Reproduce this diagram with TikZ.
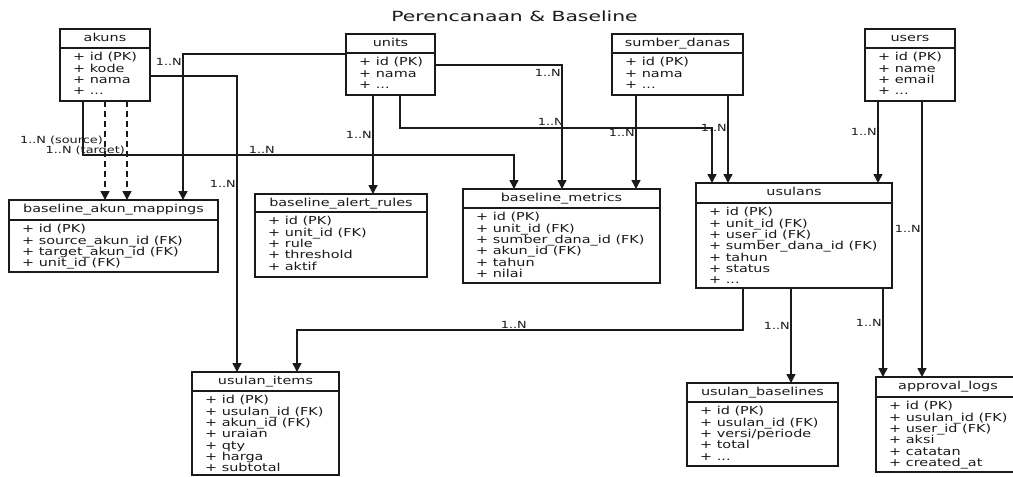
\documentclass[tikz,border=0pt]{standalone}
\usepackage{fontspec}
\setmainfont{DejaVu Sans}
\newfontfamily\erfont{DejaVu Sans}[FakeStretch=1.31]
\newfontfamily\ertitlefont{DejaVu Sans}[FakeStretch=1.45]
\usetikzlibrary{arrows.meta}
\definecolor{ink}{HTML}{1A1A1A}

\tikzset{
  tbl/.style={draw=ink, line width=1.5pt, inner sep=0pt, outer sep=0pt},
  sepline/.style={draw=ink, line width=1.2pt},
  hdr/.style={text=ink, font=\erfont\fontsize{11}{11.3}\selectfont, inner sep=0pt, anchor=base},
  fld/.style={text=ink, font=\erfont\fontsize{11}{11.3}\selectfont, inner sep=0pt, anchor=base west},
  rel/.style={draw=ink, line width=1.5pt, -{Triangle[length=9pt,width=9pt]}},
  opt/.style={rel, dash pattern=on 6pt off 4pt},
  card/.style={text=ink, font=\erfont\fontsize{9.8}{10}\selectfont, inner sep=0pt, anchor=east},
}

% trailing "more columns" row
\newcommand\etcrow{+ ...}

% entity box: name, left, top, right, header rule, bottom, title, fields
\newcommand\erentity[8]{%
  \node[tbl, anchor=north west, minimum width={(#4-#2)*1pt}, minimum height={(#6-#3)*1pt}] (#1) at (#2,#3) {};
  \draw[sepline] (#2,#5) -- (#4,#5);
  \node[hdr] (#1-h) at ({(#2+#4)/2},{#3+12.8}) {#7};
  \foreach \f [count=\i from 0] in {#8}
    \node[fld] (#1-f\i) at ({#2+13},{#5+12.8+11.3*\i}) {\f};
}

\begin{document}
\begin{tikzpicture}[x=1pt, y=-1pt]
\useasboundingbox (0,0) rectangle (1013,477);
\fill[white] (0,0) rectangle (1013,477);

\node[text=ink, font=\ertitlefont\fontsize{14}{15}\selectfont, inner sep=0pt] (title) at (514.5,16) {Perencanaan \& Baseline};

% entities
\erentity{akuns}{60}{29}{150}{48}{101}{akuns}{+ id (PK), + kode, + nama, \etcrow}
\erentity{units}{346}{34}{435}{53}{95}{units}{+ id (PK), + nama, \etcrow}
\erentity{sumber}{612}{34}{743}{53}{95}{sumber\_danas}{+ id (PK), + nama, \etcrow}
\erentity{users}{865}{29}{955}{48}{101}{users}{+ id (PK), + name, + email, \etcrow}
\erentity{bam}{9}{200}{218}{220}{272}{baseline\_akun\_mappings}{+ id (PK), + source\_akun\_id (FK), + target\_akun\_id (FK), + unit\_id (FK)}
\erentity{alert}{255}{194}{427}{212}{277}{baseline\_alert\_rules}{+ id (PK), + unit\_id (FK), + rule, + threshold, + aktif}
\erentity{bmetrics}{463}{189}{660}{208}{283}{baseline\_metrics}{+ id (PK), + unit\_id (FK), + sumber\_dana\_id (FK), + akun\_id (FK), + tahun, + nilai}
\erentity{usulans}{696}{183}{892}{203}{288}{usulans}{+ id (PK), + unit\_id (FK), + user\_id (FK), + sumber\_dana\_id (FK), + tahun, + status, \etcrow}
\erentity{uitems}{192}{372}{339}{391}{475}{usulan\_items}{+ id (PK), + usulan\_id (FK), + akun\_id (FK), + uraian, + qty, + harga, + subtotal}
\erentity{ubase}{687}{383}{838}{402}{466}{usulan\_baselines}{+ id (PK), + usulan\_id (FK), + versi/periode, + total, \etcrow}
\erentity{alogs}{876}{377}{1020}{397}{472}{approval\_logs}{+ id (PK), + usulan\_id (FK), + user\_id (FK), + aksi, + catatan, + created\_at}

% relations from akuns
\draw[opt] ([xshift=45pt]akuns.south west) -- ([xshift=96pt]bam.north west);
\draw[opt] ([xshift=67pt]akuns.south west) -- ([xshift=118pt]bam.north west);
\draw[rel] ([xshift=23pt]akuns.south west) -- ++(0,54) -| ([xshift=51pt]bmetrics.north west);
\draw[rel] ([yshift=-11pt]akuns.east) -| ([xshift=45pt]uitems.north west);

% relations from units
\draw[rel] ([yshift=10.5pt]units.west) -| ([xshift=174pt]bam.north west);
\draw[rel] ([xshift=27pt]units.south west) -- ([xshift=118pt]alert.north west);
\draw[rel] ([yshift=-0.5pt]units.east) -| ([xshift=99pt]bmetrics.north west);
\draw[rel] ([xshift=54pt]units.south west) -- ++(0,33) -| ([xshift=16pt]usulans.north west);

% relations from sumber_danas
\draw[rel] ([xshift=24pt]sumber.south west) -- ([xshift=173pt]bmetrics.north west);
\draw[rel] ([xshift=116pt]sumber.south west) -- ([xshift=32pt]usulans.north west);

% relations from users
\draw[rel] ([xshift=13pt]users.south west) -- ([xshift=182pt]usulans.north west);
\draw[rel] ([xshift=57pt]users.south west) -- ([xshift=46pt]alogs.north west);

% relations from usulans
\draw[rel] ([xshift=47pt]usulans.south west) -- ++(0,42) -| ([xshift=105pt]uitems.north west);
\draw[rel] ([xshift=95pt]usulans.south west) -- ([xshift=104pt]ubase.north west);
\draw[rel] ([xshift=187pt]usulans.south west) -- ([xshift=7pt]alogs.north west);

% cardinalities
\node[card] (c-src) at (103,140) {1..N (source)};
\node[card] (c-tgt) at (125,151) {1..N (target)};
\node[card] (c-am)  at (275,150) {1..N};
\node[card] (c-ai)  at (236,184) {1..N};
\node[card] (c-ub)  at (182,62)  {1..N};
\node[card] (c-ua)  at (372,135) {1..N};
\node[card] (c-um)  at (561,73)  {1..N};
\node[card] (c-uu)  at (564,122) {1..N};
\node[card] (c-sm)  at (635,133) {1..N};
\node[card] (c-su)  at (727,128) {1..N};
\node[card] (c-yu)  at (877,132) {1..N};
\node[card] (c-yl)  at (921,229) {1..N};
\node[card] (c-qi)  at (527,325) {1..N};
\node[card] (c-qb)  at (790,326) {1..N};
\node[card] (c-ql)  at (882,323) {1..N};
\end{tikzpicture}
\end{document}
